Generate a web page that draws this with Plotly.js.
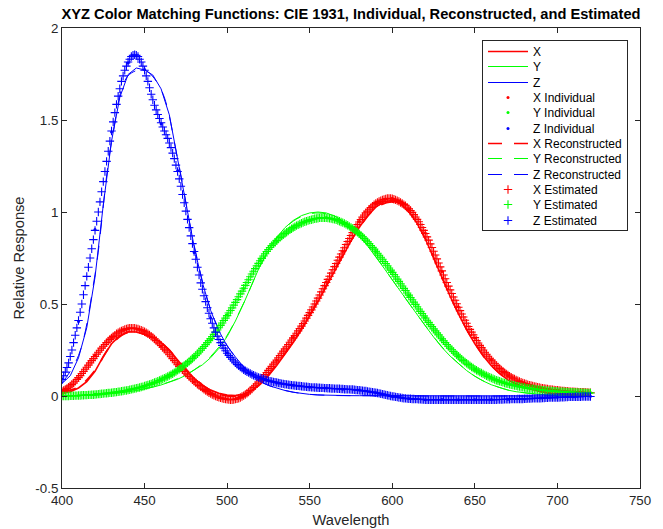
<!DOCTYPE html>
<html><head><meta charset="utf-8">
<script src="https://cdn.plot.ly/plotly-3.0.1.min.js"></script>
<style>html,body{margin:0;padding:0;background:#fff;} #chart{width:663px;height:529px;}</style>
</head><body><div id="chart"></div>
<script>
function range(a, b, s) { const r = []; for (let v = a; v <= b + 1e-9; v += s) r.push(v); return r; }

// wavelength grids (nm)
const wl5 = range(400, 720, 5);
const wl10 = range(400, 720, 10);
const wl1 = range(400, 720, 1);

// CIE 1931 (5 nm, 400-720)
const cieX = [0.01431,0.02319,0.04351,0.07763,0.13438,0.21477,0.28390,0.32850,0.34828,0.34806,0.33620,0.31870,0.29080,0.25110,0.19536,0.14210,0.09564,0.05795,0.03201,0.01470,
0.00490,0.00240,0.00930,0.02910,0.06327,0.10960,0.16550,0.22575,0.29040,0.35970,0.43345,0.51205,0.59450,0.67840,0.76210,0.84250,0.91630,0.97860,1.02630,1.05670,
1.06220,1.04560,1.00260,0.93840,0.85445,0.75140,0.64240,0.54190,0.44790,0.36080,0.28350,0.21870,0.16490,0.12120,0.08740,0.06360,0.04677,0.03290,0.02270,0.01584,
0.01136,0.00811,0.00579,0.00411,0.00290];
const cieY = [0.000396,0.00064,0.00121,0.00218,0.0040,0.0073,0.0116,0.01684,0.023,0.0298,0.038,0.048,0.060,0.0739,0.09098,0.1126,0.13902,0.1693,0.20802,0.2586,
0.323,0.4073,0.503,0.6082,0.710,0.7932,0.862,0.91485,0.954,0.9803,0.99495,1.000,0.995,0.9786,0.952,0.9154,0.870,0.8163,0.757,0.6949,
0.631,0.5668,0.503,0.4412,0.381,0.321,0.265,0.217,0.175,0.1382,0.107,0.0816,0.061,0.04458,0.032,0.0232,0.017,0.01192,0.00821,0.005723,
0.004102,0.002929,0.002091,0.001484,0.001047];
const cieZ = [0.06785,0.1102,0.2074,0.3713,0.6456,1.03905,1.3856,1.62296,1.74706,1.7826,1.77211,1.7441,1.6692,1.5281,1.28764,1.0419,0.81295,0.6162,0.46518,0.3533,
0.272,0.2123,0.1582,0.1117,0.07825,0.05725,0.04216,0.02984,0.0203,0.0134,0.00875,0.00575,0.0039,0.00275,0.0021,0.0018,0.00165,0.0014,0.0011,0.0010,
0.0008,0.0006,0.00034,0.00024,0.00019,0.0001,0.00005,0.00003,0.00002,0.00001,0,0,0,0,0,0,0,0,0,0,
0,0,0,0,0];

// Individual (10 nm)
const indX = [0.028,0.098,0.220,0.318,0.365,0.352,0.272,0.172,0.078,0.015,-0.016,0.004,0.088,0.194,0.318,0.450,0.620,0.786,0.948,1.044,1.075,1.015,0.886,0.677,0.485,0.315,0.197,0.112,0.070,0.043,0.032,0.022,0.018];
const indY = [0.001,0.003,0.009,0.017,0.033,0.053,0.089,0.138,0.214,0.310,0.440,0.584,0.737,0.843,0.917,0.954,0.970,0.940,0.883,0.785,0.674,0.546,0.426,0.309,0.218,0.145,0.099,0.065,0.047,0.032,0.026,0.019,0.017];
const indZ = [0.092,0.405,0.905,1.435,1.810,1.775,1.480,1.225,0.780,0.425,0.235,0.140,0.100,0.071,0.059,0.047,0.044,0.037,0.032,0.017,-0.003,-0.014,-0.021,-0.019,-0.021,-0.020,-0.019,-0.018,-0.016,-0.011,-0.007,-0.004,-0.002];

// Reconstructed (10 nm)
const recX = [0.020,0.050,0.140,0.280,0.345,0.335,0.290,0.200,0.100,0.030,0.000,0.008,0.065,0.170,0.295,0.440,0.600,0.765,0.915,1.020,1.055,1.000,0.855,0.645,0.450,0.285,0.165,0.090,0.047,0.023,0.012,0.006,0.003];
const recY = [0.000,0.002,0.005,0.012,0.024,0.040,0.062,0.094,0.142,0.215,0.330,0.505,0.705,0.858,0.950,0.990,0.990,0.950,0.870,0.758,0.632,0.505,0.383,0.268,0.177,0.108,0.062,0.033,0.017,0.008,0.004,0.002,0.001];
const recZ = [0.070,0.220,0.660,1.380,1.740,1.770,1.665,1.290,0.820,0.470,0.275,0.160,0.080,0.043,0.021,0.009,0.004,0.002,0.002,0.001,0.001,0,0,0,0,0,0,0,0,0,0,0,0];

// Estimated (1 nm, 400-720; one row = 10 nm)
const estX = [
0.025,0.030,0.035,0.041,0.048,0.055,0.063,0.071,0.080,0.090,
0.100,0.111,0.122,0.133,0.145,0.156,0.168,0.180,0.192,0.203,
0.215,0.227,0.238,0.249,0.260,0.270,0.280,0.290,0.299,0.308,
0.316,0.324,0.331,0.338,0.344,0.349,0.354,0.358,0.362,0.365,
0.367,0.368,0.369,0.369,0.368,0.366,0.364,0.361,0.358,0.354,
0.349,0.344,0.338,0.332,0.325,0.318,0.310,0.302,0.293,0.284,
0.275,0.265,0.255,0.245,0.235,0.224,0.213,0.203,0.192,0.181,
0.170,0.161,0.152,0.142,0.133,0.124,0.115,0.106,0.097,0.088,
0.080,0.072,0.064,0.057,0.050,0.043,0.036,0.030,0.024,0.018,
0.013,0.008,0.004,0.000,-0.004,-0.007,-0.010,-0.013,-0.015,-0.017,
-0.018,-0.019,-0.020,-0.020,-0.019,-0.017,-0.015,-0.012,-0.008,-0.003,
0.002,0.008,0.015,0.022,0.030,0.038,0.047,0.056,0.066,0.076,
0.086,0.096,0.107,0.117,0.128,0.139,0.150,0.161,0.173,0.184,
0.196,0.208,0.220,0.232,0.244,0.256,0.268,0.280,0.292,0.304,
0.316,0.328,0.341,0.354,0.367,0.380,0.394,0.408,0.423,0.438,
0.453,0.468,0.484,0.500,0.516,0.532,0.549,0.566,0.583,0.600,
0.617,0.634,0.651,0.668,0.686,0.703,0.720,0.738,0.755,0.772,
0.789,0.806,0.823,0.840,0.856,0.872,0.888,0.903,0.918,0.932,
0.946,0.959,0.972,0.984,0.995,1.005,1.015,1.024,1.032,1.039,
1.046,1.052,1.057,1.061,1.065,1.068,1.071,1.073,1.074,1.073,
1.072,1.069,1.066,1.062,1.058,1.052,1.046,1.040,1.034,1.026,
1.018,1.008,0.998,0.986,0.973,0.960,0.947,0.932,0.916,0.900,
0.883,0.865,0.847,0.827,0.807,0.787,0.766,0.745,0.723,0.702,
0.680,0.658,0.637,0.617,0.597,0.577,0.557,0.538,0.520,0.501,
0.482,0.464,0.446,0.429,0.412,0.395,0.378,0.362,0.347,0.332,
0.317,0.302,0.288,0.275,0.263,0.250,0.238,0.227,0.216,0.205,
0.195,0.185,0.175,0.166,0.158,0.150,0.142,0.134,0.127,0.120,
0.114,0.108,0.102,0.097,0.092,0.087,0.083,0.079,0.075,0.071,
0.068,0.065,0.062,0.059,0.057,0.054,0.052,0.050,0.048,0.046,
0.044,0.042,0.041,0.039,0.038,0.036,0.035,0.034,0.033,0.032,
0.031,0.030,0.029,0.028,0.027,0.026,0.026,0.025,0.024,0.024,
0.023,0.022,0.022,0.021,0.021,0.020,0.020,0.019,0.019,0.018,
0.018];
const estY = [
0.000,0.000,0.000,0.000,0.000,0.001,0.001,0.001,0.002,0.002,
0.003,0.003,0.004,0.004,0.005,0.005,0.006,0.006,0.007,0.007,
0.008,0.009,0.010,0.011,0.012,0.013,0.014,0.015,0.016,0.017,
0.018,0.019,0.020,0.021,0.023,0.024,0.026,0.027,0.029,0.030,
0.032,0.034,0.036,0.038,0.040,0.042,0.044,0.046,0.049,0.051,
0.054,0.057,0.060,0.063,0.066,0.069,0.073,0.076,0.080,0.084,
0.088,0.092,0.097,0.101,0.106,0.111,0.116,0.121,0.127,0.133,
0.139,0.145,0.152,0.159,0.166,0.173,0.180,0.188,0.196,0.204,
0.212,0.221,0.230,0.239,0.249,0.259,0.269,0.279,0.290,0.301,
0.312,0.323,0.335,0.347,0.359,0.371,0.384,0.397,0.410,0.423,
0.437,0.451,0.465,0.479,0.494,0.509,0.524,0.539,0.555,0.570,
0.586,0.601,0.617,0.632,0.648,0.663,0.678,0.692,0.707,0.721,
0.735,0.748,0.761,0.773,0.785,0.796,0.807,0.817,0.827,0.836,
0.845,0.853,0.861,0.869,0.876,0.883,0.890,0.896,0.903,0.909,
0.915,0.920,0.926,0.930,0.935,0.939,0.943,0.947,0.950,0.953,
0.956,0.958,0.961,0.963,0.965,0.966,0.968,0.968,0.969,0.969,
0.968,0.967,0.966,0.964,0.962,0.960,0.957,0.954,0.950,0.946,
0.942,0.938,0.933,0.928,0.922,0.916,0.910,0.903,0.896,0.889,
0.881,0.873,0.865,0.856,0.847,0.838,0.828,0.818,0.808,0.798,
0.787,0.776,0.765,0.754,0.743,0.731,0.720,0.708,0.696,0.684,
0.672,0.660,0.648,0.635,0.623,0.610,0.598,0.585,0.573,0.560,
0.548,0.535,0.523,0.510,0.498,0.485,0.473,0.460,0.448,0.436,
0.424,0.412,0.400,0.388,0.377,0.365,0.354,0.343,0.332,0.321,
0.311,0.300,0.290,0.280,0.270,0.260,0.251,0.242,0.233,0.224,
0.216,0.208,0.200,0.192,0.185,0.178,0.171,0.164,0.158,0.152,
0.146,0.140,0.135,0.130,0.125,0.120,0.115,0.110,0.106,0.102,
0.098,0.094,0.090,0.086,0.083,0.080,0.077,0.074,0.071,0.068,
0.066,0.063,0.061,0.059,0.057,0.055,0.053,0.051,0.049,0.047,
0.046,0.044,0.043,0.041,0.040,0.039,0.038,0.036,0.035,0.034,
0.033,0.032,0.031,0.030,0.029,0.029,0.028,0.027,0.026,0.026,
0.025,0.024,0.024,0.023,0.023,0.022,0.022,0.021,0.021,0.020,
0.020,0.019,0.019,0.019,0.018,0.018,0.018,0.017,0.017,0.017,
0.016];
const estZ = [
0.090,0.110,0.130,0.155,0.180,0.215,0.250,0.290,0.330,0.370,
0.410,0.455,0.500,0.550,0.600,0.650,0.700,0.750,0.800,0.850,
0.900,0.950,1.000,1.055,1.110,1.165,1.220,1.275,1.330,1.385,
1.440,1.490,1.540,1.585,1.630,1.670,1.710,1.740,1.770,1.793,
1.815,1.830,1.845,1.852,1.855,1.852,1.845,1.830,1.815,1.793,
1.770,1.740,1.710,1.675,1.640,1.610,1.580,1.555,1.530,1.508,
1.485,1.462,1.440,1.420,1.400,1.375,1.350,1.320,1.290,1.255,
1.220,1.180,1.140,1.095,1.050,1.005,0.960,0.915,0.870,0.828,
0.785,0.743,0.700,0.658,0.615,0.580,0.545,0.513,0.480,0.450,
0.420,0.395,0.370,0.347,0.325,0.307,0.290,0.275,0.260,0.246,
0.232,0.221,0.210,0.200,0.190,0.181,0.172,0.164,0.157,0.150,
0.143,0.137,0.132,0.127,0.122,0.117,0.113,0.109,0.105,0.101,
0.098,0.095,0.092,0.089,0.086,0.083,0.081,0.079,0.077,0.075,
0.073,0.071,0.069,0.067,0.066,0.064,0.063,0.061,0.060,0.059,
0.058,0.057,0.056,0.055,0.054,0.053,0.052,0.051,0.050,0.049,
0.048,0.047,0.047,0.046,0.046,0.045,0.045,0.044,0.044,0.043,
0.043,0.042,0.042,0.041,0.041,0.040,0.040,0.039,0.039,0.038,
0.038,0.037,0.037,0.036,0.036,0.035,0.035,0.034,0.033,0.032,
0.031,0.030,0.029,0.028,0.027,0.025,0.024,0.022,0.021,0.019,
0.018,0.016,0.014,0.012,0.010,0.008,0.006,0.004,0.002,0.000,
-0.002,-0.003,-0.005,-0.006,-0.008,-0.009,-0.011,-0.012,-0.013,-0.014,
-0.015,-0.015,-0.016,-0.016,-0.017,-0.017,-0.018,-0.018,-0.019,-0.019,
-0.020,-0.020,-0.020,-0.020,-0.020,-0.020,-0.020,-0.020,-0.020,-0.020,
-0.020,-0.020,-0.020,-0.020,-0.020,-0.020,-0.020,-0.020,-0.020,-0.020,
-0.020,-0.020,-0.020,-0.020,-0.020,-0.020,-0.020,-0.020,-0.020,-0.020,
-0.020,-0.020,-0.020,-0.020,-0.020,-0.020,-0.020,-0.020,-0.020,-0.020,
-0.020,-0.020,-0.020,-0.020,-0.019,-0.019,-0.019,-0.019,-0.018,-0.018,
-0.018,-0.018,-0.017,-0.017,-0.017,-0.017,-0.016,-0.016,-0.016,-0.016,
-0.015,-0.015,-0.014,-0.014,-0.014,-0.013,-0.013,-0.012,-0.012,-0.012,
-0.012,-0.011,-0.011,-0.010,-0.010,-0.009,-0.009,-0.009,-0.009,-0.008,
-0.008,-0.008,-0.007,-0.007,-0.007,-0.006,-0.006,-0.005,-0.005,-0.005,
-0.005,-0.004,-0.004,-0.004,-0.004,-0.003,-0.003,-0.003,-0.003,-0.003,
-0.003];

// ticks
const xTickVals = [400,450,500,550,600,650,700,750];
const xTickText = ['400','450','500','550','600','650','700','750'];
const yTickVals = [-0.5,0,0.5,1,1.5,2];
const yTickText = ['-0.5','0','0.5','1','1.5','2'];

const RED = '#ff0000', GREEN = '#00ff00', BLUE = '#0000ff';
const FONT = 'Liberation Sans, Arial, Helvetica, sans-serif';

// red thin lines need a touch more width to keep their hue
function lw(color) { return color === RED ? 1.6 : 1; }

function lineTrace(x, y, name, color) {
  return {x: x, y: y, name: name, type: 'scatter', mode: 'lines', line: {color: color, width: lw(color)}};
}
function dotTrace(x, y, name, color) {
  return {x: x, y: y, name: name, type: 'scatter', mode: 'markers', marker: {color: color, size: 3, symbol: 'circle', line: {width: 0}}};
}
function dashTrace(x, y, name, color) {
  return {x: x, y: y, name: name, type: 'scatter', mode: 'lines', line: {color: color, width: lw(color), dash: '14px,12px', shape: 'spline'}};
}
function plusTrace(x, y, name, color) {
  return {x: x, y: y, name: name, type: 'scatter', mode: 'markers', marker: {color: color, size: 6, symbol: 'cross-thin-open', line: {color: color, width: 1.1}}};
}

const traces = [
  lineTrace(wl5, cieX, 'X', RED),
  lineTrace(wl5, cieY, 'Y', GREEN),
  lineTrace(wl5, cieZ, 'Z', BLUE),
  dotTrace(wl10, indX, 'X Individual', RED),
  dotTrace(wl10, indY, 'Y Individual', GREEN),
  dotTrace(wl10, indZ, 'Z Individual', BLUE),
  dashTrace(wl10, recX, 'X Reconstructed', RED),
  dashTrace(wl10, recY, 'Y Reconstructed', GREEN),
  dashTrace(wl10, recZ, 'Z Reconstructed', BLUE),
  plusTrace(wl1, estX, 'X Estimated', RED),
  plusTrace(wl1, estY, 'Y Estimated', GREEN),
  plusTrace(wl1, estZ, 'Z Estimated', BLUE)
];

const axisCommon = {
  ticks: 'inside', ticklen: 5, tickwidth: 1, tickcolor: '#262626',
  showline: true, linecolor: '#262626', linewidth: 1, mirror: 'ticks',
  showgrid: false, zeroline: false, automargin: false,
  tickfont: {family: FONT, size: 13.33, color: '#262626'}
};

const layout = {
  width: 663, height: 529,
  margin: {l: 62, r: 23, t: 28, b: 41, pad: 0},
  paper_bgcolor: '#ffffff', plot_bgcolor: '#ffffff',
  font: {family: FONT, color: '#262626'},
  title: {
    text: 'XYZ Color Matching Functions: CIE 1931, Individual, Reconstructed, and Estimated',
    font: {family: FONT, size: 14.67, color: '#000000', weight: 'bold'},
    x: 0.5, xref: 'paper', xanchor: 'center',
    y: 1 - 14 / 529, yref: 'container', yanchor: 'middle'
  },
  showlegend: true,
  legend: {
    x: (628 - 62) / 578, xanchor: 'right',
    y: (488 - 40) / 460, yanchor: 'top',
    bgcolor: '#ffffff', bordercolor: '#262626', borderwidth: 1,
    font: {family: FONT, size: 12, color: '#000000'},
    tracegroupgap: 0, itemwidth: 40
  },
  xaxis: Object.assign({}, axisCommon, {
    range: [400, 750], tickmode: 'array', tickvals: xTickVals, ticktext: xTickText,
    title: {text: 'Wavelength', font: {family: FONT, size: 14.67, color: '#262626'}, standoff: 7}
  }),
  yaxis: Object.assign({}, axisCommon, {
    range: [-0.5, 2], tickmode: 'array', tickvals: yTickVals, ticktext: yTickText,
    title: {text: 'Relative Response', font: {family: FONT, size: 14.67, color: '#262626'}, standoff: 7}
  })
};

Plotly.newPlot('chart', traces, layout, {staticPlot: true, displayModeBar: false}).then(function (gd) {
  // MATLAB-like legend: compact rows, 40px line samples, centred symbols
  const items = gd.querySelectorAll('g.legend g.traces');
  if (!items.length) return;
  const rowH = 15.33, padTop = 3, padBot = 2;
  items.forEach(function (el, i) {
    const t = el.getAttribute('transform') || '';
    const m = /translate\(\s*([-\d.eE]+)[\s,]+([-\d.eE]+)/.exec(t);
    const x0 = m ? parseFloat(m[1]) : 0;
    let y = 1 + padTop + rowH / 2 + i * rowH;
    el.setAttribute('transform', 'translate(' + x0 + ',' + y + ')');
    const ctm = el.getCTM ? el.getCTM() : null;
    if (ctm) {
      y += (Math.floor(ctm.f) + 0.5) - ctm.f;
      el.setAttribute('transform', 'translate(' + x0 + ',' + y + ')');
    }
  });
  gd.querySelectorAll('g.legend g.legendlines path').forEach(function (p) { p.setAttribute('d', 'M5,0h40'); });
  gd.querySelectorAll('g.legend g.legendpoints path.scatterpts').forEach(function (p) { p.setAttribute('transform', 'translate(25,0)'); });
  const bg = gd.querySelector('g.legend rect.bg');
  if (bg) bg.setAttribute('height', padTop + padBot + items.length * rowH + 1);
});
</script>
</body></html>
